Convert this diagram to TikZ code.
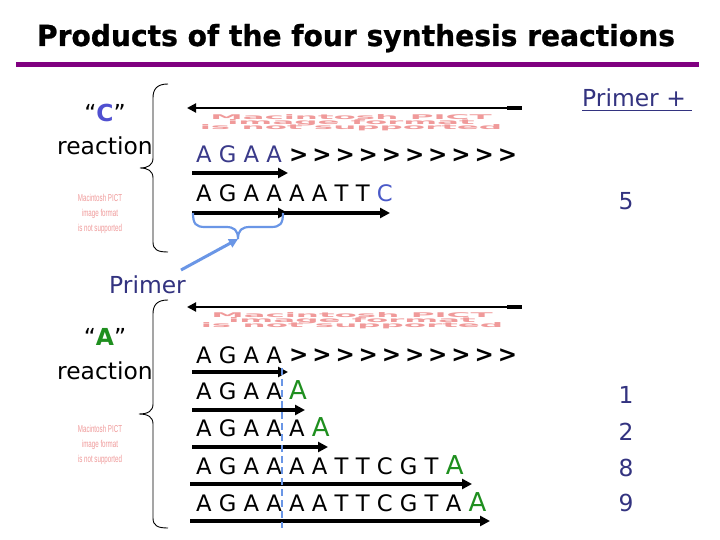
\documentclass[tikz,border=0pt]{standalone}
\usepackage{fontspec}
\setmainfont{DejaVu Sans}
\newfontfamily\libfont{Liberation Sans}
\newfontfamily\titlefont{DejaVu Sans Bold}[FakeBold=0.9]
\usetikzlibrary{arrows.meta}
\definecolor{navy}{HTML}{333380}
\definecolor{seqnavy}{HTML}{3A3A8A}
\definecolor{cblue}{HTML}{5050D0}
\definecolor{cblue2}{HTML}{4A5AC8}
\definecolor{agreen}{HTML}{1F8F1F}
\definecolor{lblue}{HTML}{6A96E6}
\definecolor{pinkc}{HTML}{F09A9A}
\definecolor{titlepurple}{HTML}{800080}
\newcommand{\gA}{\textcolor{agreen}{\fontsize{26}{26}\selectfont A}}
\newcommand{\gk}{\kern3.9pt}
\newcommand{\gts}{>\gk>\gk>\gk>\gk>\gk>\gk>\gk>\gk>\gk>}
\begin{document}
\begin{tikzpicture}[x=1pt,y=-1pt,
  txt/.style={inner sep=0pt,anchor=base west,font=\fontsize{22.7}{27}\selectfont},
  gtxt/.style={inner sep=0pt,anchor=base west,font=\fontsize{23}{26}\selectfont\bfseries},
  lbl/.style={inner sep=0pt,anchor=base west,font=\fontsize{23.4}{28}\selectfont},
  num/.style={inner sep=0pt,anchor=base,text=navy,font=\fontsize{23.4}{28}\selectfont},
  strand/.style={line width=3.5pt,-{Triangle[length=10pt,width=10pt]}},
  tmpl/.style={line width=2pt,{Triangle[length=9pt,width=9pt]}-},
  bigpict/.style={inner sep=0pt,anchor=base,text=pinkc,font=\fontsize{6.5}{6.5}\selectfont\bfseries},
  smallpict/.style={inner sep=0pt,anchor=base,text=pinkc,font=\libfont\fontsize{10}{10}\selectfont},
  brace/.style={draw=black,line width=0.9pt},
  bluebrace/.style={draw=lblue,line width=2.2pt},
]
\useasboundingbox (0,0) rectangle (720,540);
\fill[white] (0,0) rectangle (720,540);

% title
\node[inner sep=0pt,anchor=base,font=\titlefont\fontsize{29}{34}\selectfont] (title) at (356,46)
  {\scalebox{0.97}[1]{Products of the four synthesis reactions}};
\draw[titlepurple,line width=5pt] (16,64.5) -- (699,64.5);

% ---------- C reaction ----------
\node[inner sep=0pt,anchor=base,font=\fontsize{23.4}{28}\selectfont] (cq) at (105,122)
  {“\textbf{\textcolor{cblue}{C}}”};
\node[lbl] (creact) at (57,155) {reaction};
\draw[brace] (168,84) .. controls (157,84) and (153,89) .. (153,98) -- (153,158)
  .. controls (153,165) and (148,168) .. (140,168)
  .. controls (148,168) and (153,171) .. (153,178) -- (153,242)
  .. controls (153,250) and (158,252) .. (168,252);
\foreach \t [count=\i] in {Macintosh PICT,image format,is not supported}
  \node[smallpict] at (100,{187+15*\i}) {\scalebox{0.62}[1]{\t}};

\draw[tmpl] (187,108) -- (522,108);
\draw[line width=4pt] (507,108) -- (522,108);
\foreach \t [count=\i] in {Macintosh PICT,image format,is not supported}
  \node[bigpict] at (351,{114.5+5*\i}) {\scalebox{5}[1]{\t}};

\node[txt,text=seqnavy] (c1) at (196,163) {A G A A};
\node[gtxt] (c1g) at (289,162.5) {\gts};
\draw[strand] (192,173) -- (288,173);
\node[txt] (c2) at (196,202) {A G A A A A T T \textcolor{cblue2}{C}};
\draw[strand] (192,213) -- (390,213);
\draw[strand] (192,213) -- (288,213);

% primer brace and arrow
\coordinate (ptip) at (238,239);
\draw[bluebrace] (193,213) .. controls (193,224) and (196,227) .. (205,227) -- (226,227)
  .. controls (234,227) and (238,230) .. (ptip)
  .. controls (238,230) and (242,227) .. (250,227) -- (271,227)
  .. controls (280,227) and (283,224) .. (283,213);
\node[lbl,text=navy] (primer) at (109,293) {Primer};
\draw[lblue,line width=3pt,-{Triangle[length=9pt,width=9pt]}] (181,270) -- (ptip);

% ---------- A reaction ----------
\node[inner sep=0pt,anchor=base,font=\fontsize{23.4}{28}\selectfont] (aq) at (105,345)
  {“\textbf{\textcolor{agreen}{A}}”};
\node[lbl] (areact) at (57,379) {reaction};
\draw[brace] (168,300) .. controls (157,300) and (153,305) .. (153,314) -- (153,404)
  .. controls (153,411) and (148,414) .. (139,414)
  .. controls (148,414) and (153,417) .. (153,424) -- (153,518)
  .. controls (153,526) and (158,528) .. (168,528);
\foreach \t [count=\i] in {Macintosh PICT,image format,is not supported}
  \node[smallpict] at (100,{417+15*\i}) {\scalebox{0.62}[1]{\t}};

\draw[tmpl] (187,307) -- (522,307);
\draw[line width=4pt] (507,307) -- (522,307);
\foreach \t [count=\i] in {Macintosh PICT,image format,is not supported}
  \node[bigpict] at (352,{312.5+5*\i}) {\scalebox{5}[1]{\t}};

\node[txt] (a1) at (196,363) {A G A A};
\node[gtxt] (a1g) at (289,362.5) {\gts};
\draw[strand] (192,372) -- (288,372);
\node[txt] (a2) at (196,399) {A G A A \gA};
\draw[strand] (192,410) -- (305,410);
\node[txt] (a3) at (196,436) {A G A A A \gA};
\draw[strand] (192,447) -- (328,447);
\node[txt] (a4) at (196,474) {A G A A A A T T C G T \gA};
\draw[strand] (190,484) -- (472,484);
\node[txt] (a5) at (196,511) {A G A A A A T T C G T A \gA};
\draw[strand] (190,521) -- (490,521);

\draw[lblue,line width=2pt,dash pattern=on 7pt off 4pt] (282,368) -- (282,528);

% ---------- right column ----------
\node[lbl,text=navy] (pplus) at (582,107) {Primer +};
\draw[navy,line width=1.5pt] (582,110.5) -- (692,110.5);
\node[num] (n5) at (626,210) {5};
\node[num] (n1) at (626,403) {1};
\node[num] (n2) at (626,440) {2};
\node[num] (n8) at (626,476) {8};
\node[num] (n9) at (626,511) {9};
\end{tikzpicture}
\end{document}
